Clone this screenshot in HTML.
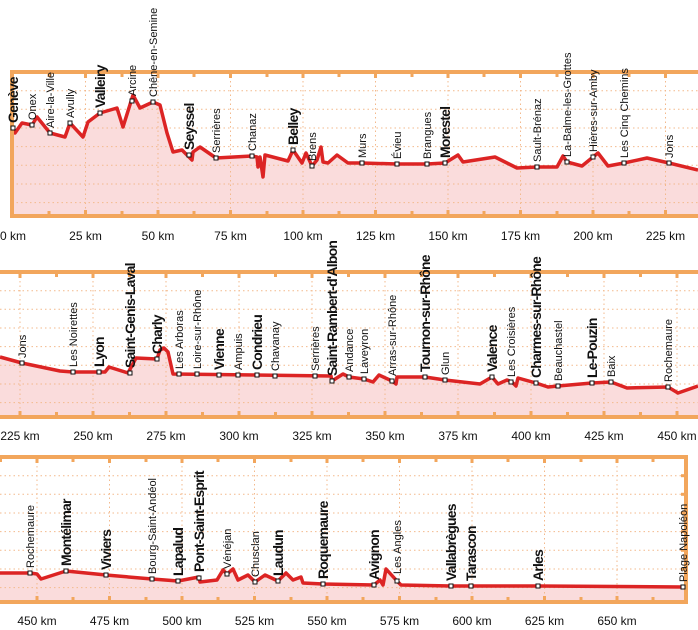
<!DOCTYPE html>
<html><head><meta charset="utf-8"><style>
html,body{margin:0;padding:0;background:#fff;}
svg{display:block;}
text{font-family:"Liberation Sans Narrow","Liberation Sans",sans-serif;fill:#111;}
.r{font-size:11px;}
.b{font-size:14px;font-weight:bold;letter-spacing:-0.8px;}
.ax{font-size:12px;text-anchor:middle;}
.line{fill:none;stroke:#dc2424;stroke-width:3.5;stroke-linejoin:round;}
.fill{fill:#fadcdc;stroke:none;}
.g{stroke:#f3b98c;stroke-width:1;stroke-dasharray:1.5 3;}
.bd{stroke:#f2a65c;stroke-width:4;fill:none;}
.tk{stroke:#f2a65c;stroke-width:3;}
.m{fill:#fff;stroke:#111;stroke-width:1;}
</style></head><body>
<svg width="698" height="630" viewBox="0 0 698 630" xmlns="http://www.w3.org/2000/svg">
<!-- PANEL 1 -->
<g>
<polygon class="fill" points="13,128 15,133 22,123 32,125 37,117 50,133 65,137 70,123 83,137 88,122 100,113 117,108 123,127 133,95 140,108 153,102 160,105 167,133 173,152 182,150 192,160 193,152 200,147 216,158 252,156 257,157 258,167 260,157 263,177 265,155 288,161 293,150 302,163 306,153 312,166 317,160 321,147 323,162 328,163 337,155 348,163 362,163 397,164 427,164 445,163 458,155 463,162 495,157 517,168 537,167 557,167 563,156 567,162 582,166 593,157 598,153 608,166 624,163 647,158 669,163 698,170 698,216 13,216"/>
<g class="g">
<line x1="12" y1="90.7" x2="698" y2="90.7"/><line x1="12" y1="109.3" x2="698" y2="109.3"/><line x1="12" y1="128" x2="698" y2="128"/><line x1="12" y1="146.6" x2="698" y2="146.6"/><line x1="12" y1="165.3" x2="698" y2="165.3"/><line x1="12" y1="184" x2="698" y2="184"/><line x1="12" y1="202.6" x2="698" y2="202.6"/>
<line x1="85.5" y1="72" x2="85.5" y2="216"/><line x1="158" y1="72" x2="158" y2="216"/><line x1="230.5" y1="72" x2="230.5" y2="216"/><line x1="303" y1="72" x2="303" y2="216"/><line x1="375.5" y1="72" x2="375.5" y2="216"/><line x1="448" y1="72" x2="448" y2="216"/><line x1="520.5" y1="72" x2="520.5" y2="216"/><line x1="593" y1="72" x2="593" y2="216"/><line x1="665.5" y1="72" x2="665.5" y2="216"/>
</g>
<polyline class="line" points="13,128 15,133 22,123 32,125 37,117 50,133 65,137 70,123 83,137 88,122 100,113 117,108 123,127 133,95 140,108 153,102 160,105 167,133 173,152 182,150 192,160 193,152 200,147 216,158 252,156 257,157 258,167 260,157 263,177 265,155 288,161 293,150 302,163 306,153 312,166 317,160 321,147 323,162 328,163 337,155 348,163 362,163 397,164 427,164 445,163 458,155 463,162 495,157 517,168 537,167 557,167 563,156 567,162 582,166 593,157 598,153 608,166 624,163 647,158 669,163 698,170"/>
<path class="bd" d="M698,72 H12 V216 H698"/>
<g class="tk">
<line x1="49" y1="72" x2="49" y2="77"/><line x1="85.5" y1="72" x2="85.5" y2="78"/><line x1="122" y1="72" x2="122" y2="77"/><line x1="158" y1="72" x2="158" y2="78"/><line x1="194" y1="72" x2="194" y2="77"/><line x1="230.5" y1="72" x2="230.5" y2="78"/><line x1="267" y1="72" x2="267" y2="77"/><line x1="303" y1="72" x2="303" y2="78"/><line x1="339" y1="72" x2="339" y2="77"/><line x1="375.5" y1="72" x2="375.5" y2="78"/><line x1="412" y1="72" x2="412" y2="77"/><line x1="448" y1="72" x2="448" y2="78"/><line x1="484" y1="72" x2="484" y2="77"/><line x1="520.5" y1="72" x2="520.5" y2="78"/><line x1="557" y1="72" x2="557" y2="77"/><line x1="593" y1="72" x2="593" y2="78"/><line x1="629" y1="72" x2="629" y2="77"/><line x1="665.5" y1="72" x2="665.5" y2="78"/>
<line x1="49" y1="216" x2="49" y2="211"/><line x1="85.5" y1="216" x2="85.5" y2="210"/><line x1="122" y1="216" x2="122" y2="211"/><line x1="158" y1="216" x2="158" y2="210"/><line x1="194" y1="216" x2="194" y2="211"/><line x1="230.5" y1="216" x2="230.5" y2="210"/><line x1="267" y1="216" x2="267" y2="211"/><line x1="303" y1="216" x2="303" y2="210"/><line x1="339" y1="216" x2="339" y2="211"/><line x1="375.5" y1="216" x2="375.5" y2="210"/><line x1="412" y1="216" x2="412" y2="211"/><line x1="448" y1="216" x2="448" y2="210"/><line x1="484" y1="216" x2="484" y2="211"/><line x1="520.5" y1="216" x2="520.5" y2="210"/><line x1="557" y1="216" x2="557" y2="211"/><line x1="593" y1="216" x2="593" y2="210"/><line x1="629" y1="216" x2="629" y2="211"/><line x1="665.5" y1="216" x2="665.5" y2="210"/>
</g>
<g class="m">
<rect x="11" y="126" width="4" height="4"/><rect x="30" y="123" width="4" height="4"/><rect x="48" y="131" width="4" height="4"/><rect x="68" y="121" width="4" height="4"/><rect x="98" y="111" width="4" height="4"/><rect x="130" y="99" width="4" height="4"/><rect x="151" y="100" width="4" height="4"/><rect x="187" y="153" width="4" height="4"/><rect x="214" y="156" width="4" height="4"/><rect x="250" y="154" width="4" height="4"/><rect x="291" y="148" width="4" height="4"/><rect x="310" y="164" width="4" height="4"/><rect x="360" y="161" width="4" height="4"/><rect x="395" y="162" width="4" height="4"/><rect x="425" y="162" width="4" height="4"/><rect x="443" y="161" width="4" height="4"/><rect x="535" y="165" width="4" height="4"/><rect x="565" y="160" width="4" height="4"/><rect x="591" y="155" width="4" height="4"/><rect x="622" y="161" width="4" height="4"/><rect x="667" y="161" width="4" height="4"/>
</g>
<text class="b" transform="translate(18,123) rotate(-90)">Genève</text>
<text class="r" transform="translate(36,120) rotate(-90)">Onex</text>
<text class="r" transform="translate(54,128) rotate(-90)">Aire-la-Ville</text>
<text class="r" transform="translate(74,118) rotate(-90)">Avully</text>
<text class="b" transform="translate(105,108) rotate(-90)">Valleiry</text>
<text class="r" transform="translate(136,96) rotate(-90)">Arcine</text>
<text class="r" transform="translate(157,97) rotate(-90)">Chêne-en-Semine</text>
<text class="b" transform="translate(194,150) rotate(-90)">Seyssel</text>
<text class="r" transform="translate(220,153) rotate(-90)">Serrières</text>
<text class="r" transform="translate(256,151) rotate(-90)">Chanaz</text>
<text class="b" transform="translate(298,145) rotate(-90)">Belley</text>
<text class="r" transform="translate(316,161) rotate(-90)">Brens</text>
<text class="r" transform="translate(366,158) rotate(-90)">Murs</text>
<text class="r" transform="translate(401,159) rotate(-90)">Évieu</text>
<text class="r" transform="translate(431,159) rotate(-90)">Brangues</text>
<text class="b" transform="translate(450,158) rotate(-90)">Morestel</text>
<text class="r" transform="translate(541,162) rotate(-90)">Sault-Brénaz</text>
<text class="r" transform="translate(571,157) rotate(-90)">La-Balme-les-Grottes</text>
<text class="r" transform="translate(597,152) rotate(-90)">Hières-sur-Amby</text>
<text class="r" transform="translate(628,158) rotate(-90)">Les Cinq Chemins</text>
<text class="r" transform="translate(673,158) rotate(-90)">Jons</text>
<text class="ax" x="13" y="240">0 km</text><text class="ax" x="85.5" y="240">25 km</text><text class="ax" x="158" y="240">50 km</text><text class="ax" x="230.5" y="240">75 km</text><text class="ax" x="303" y="240">100 km</text><text class="ax" x="375.5" y="240">125 km</text><text class="ax" x="448" y="240">150 km</text><text class="ax" x="520.5" y="240">175 km</text><text class="ax" x="593" y="240">200 km</text><text class="ax" x="665.5" y="240">225 km</text>
</g>

<!-- PANEL 2 -->
<g>
<polygon class="fill" points="0,357 22,363 60,371 73,372 99,372 105,372 109,367 128,373 136,358 157,359 160,350 164,348 168,352 173,374 331,376 332,381 343,374 349,377 364,379 373,382 379,375 392,381 396,384 397,377 425,377 445,380 480,384 492,377 498,384 507,380 512,382 516,386 518,378 536,383 548,387 558,386 592,383 611,382 627,388 668,387 678,393 698,386 698,417 0,417"/>
<g class="g">
<line x1="0" y1="290.7" x2="698" y2="290.7"/><line x1="0" y1="309.3" x2="698" y2="309.3"/><line x1="0" y1="328" x2="698" y2="328"/><line x1="0" y1="346.6" x2="698" y2="346.6"/><line x1="0" y1="365.3" x2="698" y2="365.3"/><line x1="0" y1="384" x2="698" y2="384"/><line x1="0" y1="402.6" x2="698" y2="402.6"/>
<line x1="20" y1="272" x2="20" y2="417"/><line x1="93" y1="272" x2="93" y2="417"/><line x1="166" y1="272" x2="166" y2="417"/><line x1="239" y1="272" x2="239" y2="417"/><line x1="312" y1="272" x2="312" y2="417"/><line x1="385" y1="272" x2="385" y2="417"/><line x1="458" y1="272" x2="458" y2="417"/><line x1="531" y1="272" x2="531" y2="417"/><line x1="604" y1="272" x2="604" y2="417"/><line x1="677" y1="272" x2="677" y2="417"/>
</g>
<polyline class="line" points="0,357 22,363 60,371 73,372 99,372 105,372 109,367 128,373 136,358 157,359 160,350 164,348 168,352 173,374 331,376 332,381 343,374 349,377 364,379 373,382 379,375 392,381 396,384 397,377 425,377 445,380 480,384 492,377 498,384 507,380 512,382 516,386 518,378 536,383 548,387 558,386 592,383 611,382 627,388 668,387 678,393 698,386"/>
<path class="bd" d="M0,272 H698 M0,417 H698"/>
<g class="tk">
<line x1="20" y1="272" x2="20" y2="278"/><line x1="56.5" y1="272" x2="56.5" y2="277"/><line x1="93" y1="272" x2="93" y2="278"/><line x1="129.5" y1="272" x2="129.5" y2="277"/><line x1="166" y1="272" x2="166" y2="278"/><line x1="202.5" y1="272" x2="202.5" y2="277"/><line x1="239" y1="272" x2="239" y2="278"/><line x1="275.5" y1="272" x2="275.5" y2="277"/><line x1="312" y1="272" x2="312" y2="278"/><line x1="348.5" y1="272" x2="348.5" y2="277"/><line x1="385" y1="272" x2="385" y2="278"/><line x1="421.5" y1="272" x2="421.5" y2="277"/><line x1="458" y1="272" x2="458" y2="278"/><line x1="494.5" y1="272" x2="494.5" y2="277"/><line x1="531" y1="272" x2="531" y2="278"/><line x1="567.5" y1="272" x2="567.5" y2="277"/><line x1="604" y1="272" x2="604" y2="278"/><line x1="640.5" y1="272" x2="640.5" y2="277"/><line x1="677" y1="272" x2="677" y2="278"/>
<line x1="20" y1="417" x2="20" y2="411"/><line x1="56.5" y1="417" x2="56.5" y2="412"/><line x1="93" y1="417" x2="93" y2="411"/><line x1="129.5" y1="417" x2="129.5" y2="412"/><line x1="166" y1="417" x2="166" y2="411"/><line x1="202.5" y1="417" x2="202.5" y2="412"/><line x1="239" y1="417" x2="239" y2="411"/><line x1="275.5" y1="417" x2="275.5" y2="412"/><line x1="312" y1="417" x2="312" y2="411"/><line x1="348.5" y1="417" x2="348.5" y2="412"/><line x1="385" y1="417" x2="385" y2="411"/><line x1="421.5" y1="417" x2="421.5" y2="412"/><line x1="458" y1="417" x2="458" y2="411"/><line x1="494.5" y1="417" x2="494.5" y2="412"/><line x1="531" y1="417" x2="531" y2="411"/><line x1="567.5" y1="417" x2="567.5" y2="412"/><line x1="604" y1="417" x2="604" y2="411"/><line x1="640.5" y1="417" x2="640.5" y2="412"/><line x1="677" y1="417" x2="677" y2="411"/>
</g>
<g class="m">
<rect x="20" y="361" width="4" height="4"/><rect x="71" y="370" width="4" height="4"/><rect x="97" y="370" width="4" height="4"/><rect x="128" y="371" width="4" height="4"/><rect x="155" y="357" width="4" height="4"/><rect x="177" y="372" width="4" height="4"/><rect x="195" y="372" width="4" height="4"/><rect x="217" y="373" width="4" height="4"/><rect x="236" y="373" width="4" height="4"/><rect x="255" y="373" width="4" height="4"/><rect x="273" y="374" width="4" height="4"/><rect x="313" y="374" width="4" height="4"/><rect x="330" y="379" width="4" height="4"/><rect x="347" y="375" width="4" height="4"/><rect x="362" y="377" width="4" height="4"/><rect x="390" y="379" width="4" height="4"/><rect x="423" y="375" width="4" height="4"/><rect x="443" y="378" width="4" height="4"/><rect x="490" y="375" width="4" height="4"/><rect x="509" y="380" width="4" height="4"/><rect x="534" y="381" width="4" height="4"/><rect x="556" y="384" width="4" height="4"/><rect x="590" y="381" width="4" height="4"/><rect x="609" y="380" width="4" height="4"/><rect x="666" y="385" width="4" height="4"/>
</g>
<text class="r" transform="translate(26,358) rotate(-90)">Jons</text>
<text class="r" transform="translate(77,367) rotate(-90)">Les Noirettes</text>
<text class="b" transform="translate(104,367) rotate(-90)">Lyon</text>
<text class="b" transform="translate(135,368) rotate(-90)">Saint-Genis-Laval</text>
<text class="b" transform="translate(162,354) rotate(-90)">Charly</text>
<text class="r" transform="translate(183,369) rotate(-90)">Les Arboras</text>
<text class="r" transform="translate(201,369) rotate(-90)">Loire-sur-Rhône</text>
<text class="b" transform="translate(224,370) rotate(-90)">Vienne</text>
<text class="r" transform="translate(242,370) rotate(-90)">Ampuis</text>
<text class="b" transform="translate(262,370) rotate(-90)">Condrieu</text>
<text class="r" transform="translate(279,371) rotate(-90)">Chavanay</text>
<text class="r" transform="translate(319,371) rotate(-90)">Serrières</text>
<text class="b" transform="translate(337,376) rotate(-90)">Saint-Rambert-d'Albon</text>
<text class="r" transform="translate(353,372) rotate(-90)">Andance</text>
<text class="r" transform="translate(368,374) rotate(-90)">Laveyron</text>
<text class="r" transform="translate(396,376) rotate(-90)">Arras-sur-Rhône</text>
<text class="b" transform="translate(430,372) rotate(-90)">Tournon-sur-Rhône</text>
<text class="r" transform="translate(449,375) rotate(-90)">Glun</text>
<text class="b" transform="translate(497,372) rotate(-90)">Valence</text>
<text class="r" transform="translate(515,377) rotate(-90)">Les Croisières</text>
<text class="b" transform="translate(541,378) rotate(-90)">Charmes-sur-Rhône</text>
<text class="r" transform="translate(562,381) rotate(-90)">Beauchastel</text>
<text class="b" transform="translate(597,378) rotate(-90)">Le-Pouzin</text>
<text class="r" transform="translate(615,377) rotate(-90)">Baix</text>
<text class="r" transform="translate(672,382) rotate(-90)">Rochemaure</text>
<text class="ax" x="20" y="440">225 km</text><text class="ax" x="93" y="440">250 km</text><text class="ax" x="166" y="440">275 km</text><text class="ax" x="239" y="440">300 km</text><text class="ax" x="312" y="440">325 km</text><text class="ax" x="385" y="440">350 km</text><text class="ax" x="458" y="440">375 km</text><text class="ax" x="531" y="440">400 km</text><text class="ax" x="604" y="440">425 km</text><text class="ax" x="677" y="440">450 km</text>
</g>

<!-- PANEL 3 -->
<g>
<polygon class="fill" points="0,573 30,573 37,574 41,579 66,571 106,575 152,579 178,581 199,577 200,582 217,580 223,570 227,574 233,569 238,580 248,575 255,582 265,575 278,581 286,573 293,580 301,577 303,583 323,584 374,585 380,580 383,585 386,569 397,581 401,585 451,586 471,586 538,586 684,587 684,602 0,602"/>
<g class="g">
<line x1="0" y1="475.7" x2="686" y2="475.7"/><line x1="0" y1="494.3" x2="686" y2="494.3"/><line x1="0" y1="513" x2="686" y2="513"/><line x1="0" y1="531.6" x2="686" y2="531.6"/><line x1="0" y1="550.3" x2="686" y2="550.3"/><line x1="0" y1="569" x2="686" y2="569"/><line x1="0" y1="587.6" x2="686" y2="587.6"/>
<line x1="37" y1="457" x2="37" y2="602"/><line x1="109.5" y1="457" x2="109.5" y2="602"/><line x1="182" y1="457" x2="182" y2="602"/><line x1="254.5" y1="457" x2="254.5" y2="602"/><line x1="327" y1="457" x2="327" y2="602"/><line x1="399.5" y1="457" x2="399.5" y2="602"/><line x1="472" y1="457" x2="472" y2="602"/><line x1="544.5" y1="457" x2="544.5" y2="602"/><line x1="617" y1="457" x2="617" y2="602"/>
</g>
<polyline class="line" points="0,573 30,573 37,574 41,579 66,571 106,575 152,579 178,581 199,577 200,582 217,580 223,570 227,574 233,569 238,580 248,575 255,582 265,575 278,581 286,573 293,580 301,577 303,583 323,584 374,585 380,580 383,585 386,569 397,581 401,585 451,586 471,586 538,586 683,587"/>
<path class="bd" d="M0,457 H686 V602 H0"/>
<g class="tk">
<line x1="0.5" y1="457" x2="0.5" y2="462"/><line x1="37" y1="457" x2="37" y2="463"/><line x1="73" y1="457" x2="73" y2="462"/><line x1="109.5" y1="457" x2="109.5" y2="463"/><line x1="146" y1="457" x2="146" y2="462"/><line x1="182" y1="457" x2="182" y2="463"/><line x1="218" y1="457" x2="218" y2="462"/><line x1="254.5" y1="457" x2="254.5" y2="463"/><line x1="291" y1="457" x2="291" y2="462"/><line x1="327" y1="457" x2="327" y2="463"/><line x1="363" y1="457" x2="363" y2="462"/><line x1="399.5" y1="457" x2="399.5" y2="463"/><line x1="436" y1="457" x2="436" y2="462"/><line x1="472" y1="457" x2="472" y2="463"/><line x1="508" y1="457" x2="508" y2="462"/><line x1="544.5" y1="457" x2="544.5" y2="463"/><line x1="581" y1="457" x2="581" y2="462"/><line x1="617" y1="457" x2="617" y2="463"/><line x1="653" y1="457" x2="653" y2="462"/>
<line x1="37" y1="602" x2="37" y2="596"/><line x1="73" y1="602" x2="73" y2="597"/><line x1="109.5" y1="602" x2="109.5" y2="596"/><line x1="146" y1="602" x2="146" y2="597"/><line x1="182" y1="602" x2="182" y2="596"/><line x1="218" y1="602" x2="218" y2="597"/><line x1="254.5" y1="602" x2="254.5" y2="596"/><line x1="291" y1="602" x2="291" y2="597"/><line x1="327" y1="602" x2="327" y2="596"/><line x1="363" y1="602" x2="363" y2="597"/><line x1="399.5" y1="602" x2="399.5" y2="596"/><line x1="436" y1="602" x2="436" y2="597"/><line x1="472" y1="602" x2="472" y2="596"/><line x1="508" y1="602" x2="508" y2="597"/><line x1="544.5" y1="602" x2="544.5" y2="596"/><line x1="581" y1="602" x2="581" y2="597"/><line x1="617" y1="602" x2="617" y2="596"/><line x1="653" y1="602" x2="653" y2="597"/>
<line x1="686" y1="475.7" x2="681" y2="475.7"/><line x1="686" y1="494.3" x2="681" y2="494.3"/><line x1="686" y1="513" x2="681" y2="513"/><line x1="686" y1="531.6" x2="681" y2="531.6"/><line x1="686" y1="550.3" x2="681" y2="550.3"/><line x1="686" y1="569" x2="681" y2="569"/><line x1="686" y1="587.6" x2="681" y2="587.6"/>
</g>
<g class="m">
<rect x="28" y="571" width="4" height="4"/><rect x="64" y="569" width="4" height="4"/><rect x="104" y="573" width="4" height="4"/><rect x="150" y="577" width="4" height="4"/><rect x="176" y="579" width="4" height="4"/><rect x="197" y="576" width="4" height="4"/><rect x="225" y="572" width="4" height="4"/><rect x="253" y="580" width="4" height="4"/><rect x="276" y="579" width="4" height="4"/><rect x="321" y="582" width="4" height="4"/><rect x="372" y="583" width="4" height="4"/><rect x="395" y="579" width="4" height="4"/><rect x="449" y="584" width="4" height="4"/><rect x="469" y="584" width="4" height="4"/><rect x="536" y="584" width="4" height="4"/><rect x="681" y="585" width="4" height="4"/>
</g>
<text class="r" transform="translate(34,568) rotate(-90)">Rochemaure</text>
<text class="b" transform="translate(71,566) rotate(-90)">Montélimar</text>
<text class="b" transform="translate(111,570) rotate(-90)">Viviers</text>
<text class="r" transform="translate(156,574) rotate(-90)">Bourg-Saint-Andéol</text>
<text class="b" transform="translate(183,576) rotate(-90)">Lapalud</text>
<text class="b" transform="translate(204,572) rotate(-90)">Pont-Saint-Esprit</text>
<text class="r" transform="translate(231,569) rotate(-90)">Vénéjan</text>
<text class="r" transform="translate(259,577) rotate(-90)">Chusclan</text>
<text class="b" transform="translate(283,576) rotate(-90)">Laudun</text>
<text class="b" transform="translate(328,579) rotate(-90)">Roquemaure</text>
<text class="b" transform="translate(379,580) rotate(-90)">Avignon</text>
<text class="r" transform="translate(401,574) rotate(-90)">Les Angles</text>
<text class="b" transform="translate(456,581) rotate(-90)">Vallabrègues</text>
<text class="b" transform="translate(476,581) rotate(-90)">Tarascon</text>
<text class="b" transform="translate(543,581) rotate(-90)">Arles</text>
<text class="r" transform="translate(687,582) rotate(-90)">Plage Napoléon</text>
<text class="ax" x="37" y="625">450 km</text><text class="ax" x="109.5" y="625">475 km</text><text class="ax" x="182" y="625">500 km</text><text class="ax" x="254.5" y="625">525 km</text><text class="ax" x="327" y="625">550 km</text><text class="ax" x="399.5" y="625">575 km</text><text class="ax" x="472" y="625">600 km</text><text class="ax" x="544.5" y="625">625 km</text><text class="ax" x="617" y="625">650 km</text>
</g>
</svg>
</body></html>
